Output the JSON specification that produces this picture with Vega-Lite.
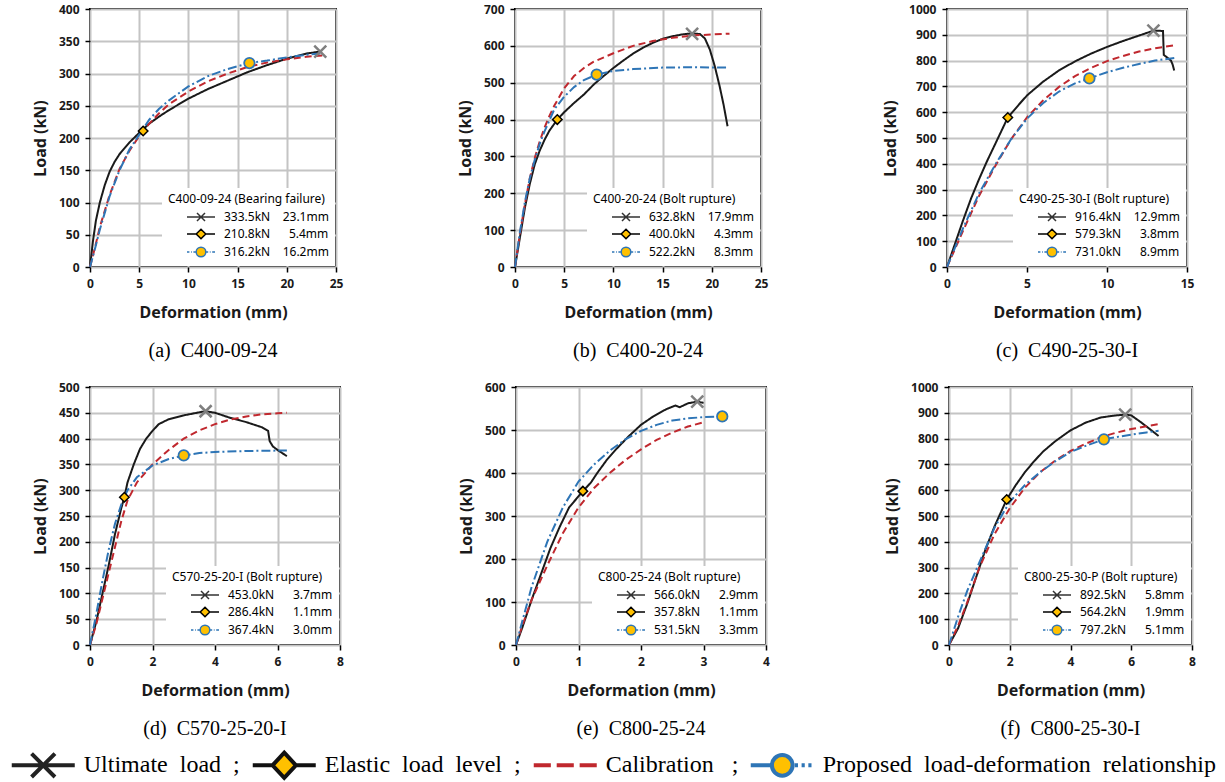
{
"$schema":"https://vega.github.io/schema/vega-lite/v6.json",
"background":"white",
"padding":{"left":10,"top":2,"right":2,"bottom":0},
"datasets":{
"cv":[
{"p":"a","s":"T","x":0,"y":0},{"p":"a","s":"T","x":0.3,"y":40},{"p":"a","s":"T","x":0.6,"y":72},{"p":"a","s":"T","x":1,"y":100},{"p":"a","s":"T","x":1.5,"y":127},{"p":"a","s":"T","x":2,"y":148},{"p":"a","s":"T","x":2.5,"y":163},{"p":"a","s":"T","x":3,"y":175},{"p":"a","s":"T","x":4,"y":193},{"p":"a","s":"T","x":5,"y":208},{"p":"a","s":"T","x":6,"y":222},{"p":"a","s":"T","x":7,"y":233},{"p":"a","s":"T","x":8,"y":243},{"p":"a","s":"T","x":10,"y":261},{"p":"a","s":"T","x":12,"y":276},{"p":"a","s":"T","x":14,"y":289},{"p":"a","s":"T","x":16,"y":302},{"p":"a","s":"T","x":18,"y":313},{"p":"a","s":"T","x":20,"y":323},{"p":"a","s":"T","x":22,"y":331},{"p":"a","s":"T","x":23.4,"y":334},
{"p":"a","s":"C","x":0,"y":0},{"p":"a","s":"C","x":0.5,"y":30},{"p":"a","s":"C","x":1,"y":62},{"p":"a","s":"C","x":2,"y":112},{"p":"a","s":"C","x":3,"y":152},{"p":"a","s":"C","x":4,"y":180},{"p":"a","s":"C","x":5,"y":203},{"p":"a","s":"C","x":6,"y":222},{"p":"a","s":"C","x":7,"y":238},{"p":"a","s":"C","x":8,"y":252},{"p":"a","s":"C","x":10,"y":272},{"p":"a","s":"C","x":12,"y":288},{"p":"a","s":"C","x":14,"y":300},{"p":"a","s":"C","x":16,"y":310},{"p":"a","s":"C","x":18,"y":317},{"p":"a","s":"C","x":20,"y":322},{"p":"a","s":"C","x":22,"y":326},{"p":"a","s":"C","x":23.6,"y":328},
{"p":"a","s":"P","x":0,"y":0},{"p":"a","s":"P","x":0.5,"y":28},{"p":"a","s":"P","x":1,"y":58},{"p":"a","s":"P","x":2,"y":110},{"p":"a","s":"P","x":3,"y":150},{"p":"a","s":"P","x":4,"y":182},{"p":"a","s":"P","x":5,"y":205},{"p":"a","s":"P","x":6,"y":228},{"p":"a","s":"P","x":7,"y":245},{"p":"a","s":"P","x":8,"y":258},{"p":"a","s":"P","x":10,"y":280},{"p":"a","s":"P","x":12,"y":296},{"p":"a","s":"P","x":14,"y":307},{"p":"a","s":"P","x":16.2,"y":316.2},{"p":"a","s":"P","x":18,"y":320},{"p":"a","s":"P","x":20,"y":325},{"p":"a","s":"P","x":22,"y":329},{"p":"a","s":"P","x":23.4,"y":331},
{"p":"b","s":"T","x":0,"y":0},{"p":"b","s":"T","x":0.5,"y":80},{"p":"b","s":"T","x":1,"y":160},{"p":"b","s":"T","x":1.5,"y":225},{"p":"b","s":"T","x":2,"y":278},{"p":"b","s":"T","x":2.5,"y":315},{"p":"b","s":"T","x":3,"y":345},{"p":"b","s":"T","x":3.5,"y":370},{"p":"b","s":"T","x":4.3,"y":400},{"p":"b","s":"T","x":5,"y":420},{"p":"b","s":"T","x":6,"y":445},{"p":"b","s":"T","x":7,"y":468},{"p":"b","s":"T","x":8,"y":495},{"p":"b","s":"T","x":9,"y":518},{"p":"b","s":"T","x":10,"y":540},{"p":"b","s":"T","x":11,"y":560},{"p":"b","s":"T","x":12,"y":579},{"p":"b","s":"T","x":13,"y":595},{"p":"b","s":"T","x":14,"y":608},{"p":"b","s":"T","x":15,"y":619},{"p":"b","s":"T","x":16,"y":626},{"p":"b","s":"T","x":17,"y":631},{"p":"b","s":"T","x":18,"y":634},{"p":"b","s":"T","x":18.8,"y":632},{"p":"b","s":"T","x":19.3,"y":620},{"p":"b","s":"T","x":19.8,"y":590},{"p":"b","s":"T","x":20.3,"y":545},{"p":"b","s":"T","x":20.8,"y":490},{"p":"b","s":"T","x":21.2,"y":440},{"p":"b","s":"T","x":21.6,"y":382},
{"p":"b","s":"C","x":0,"y":0},{"p":"b","s":"C","x":0.5,"y":90},{"p":"b","s":"C","x":1,"y":170},{"p":"b","s":"C","x":1.5,"y":240},{"p":"b","s":"C","x":2,"y":295},{"p":"b","s":"C","x":2.5,"y":340},{"p":"b","s":"C","x":3,"y":378},{"p":"b","s":"C","x":3.5,"y":410},{"p":"b","s":"C","x":4,"y":438},{"p":"b","s":"C","x":5,"y":485},{"p":"b","s":"C","x":6,"y":518},{"p":"b","s":"C","x":7,"y":540},{"p":"b","s":"C","x":8,"y":557},{"p":"b","s":"C","x":10,"y":580},{"p":"b","s":"C","x":12,"y":600},{"p":"b","s":"C","x":14,"y":613},{"p":"b","s":"C","x":16,"y":622},{"p":"b","s":"C","x":18,"y":628},{"p":"b","s":"C","x":20,"y":631},{"p":"b","s":"C","x":21.8,"y":633},
{"p":"b","s":"P","x":0,"y":0},{"p":"b","s":"P","x":0.5,"y":95},{"p":"b","s":"P","x":1,"y":175},{"p":"b","s":"P","x":1.5,"y":240},{"p":"b","s":"P","x":2,"y":290},{"p":"b","s":"P","x":2.5,"y":333},{"p":"b","s":"P","x":3,"y":368},{"p":"b","s":"P","x":4,"y":428},{"p":"b","s":"P","x":5,"y":462},{"p":"b","s":"P","x":6,"y":488},{"p":"b","s":"P","x":7,"y":507},{"p":"b","s":"P","x":8.3,"y":522.2},{"p":"b","s":"P","x":10,"y":532},{"p":"b","s":"P","x":12,"y":537},{"p":"b","s":"P","x":15,"y":541},{"p":"b","s":"P","x":18,"y":542},{"p":"b","s":"P","x":21.7,"y":541},
{"p":"c","s":"T","x":0,"y":0},{"p":"c","s":"T","x":0.5,"y":90},{"p":"c","s":"T","x":1,"y":180},{"p":"c","s":"T","x":1.5,"y":265},{"p":"c","s":"T","x":2,"y":340},{"p":"c","s":"T","x":2.5,"y":410},{"p":"c","s":"T","x":3,"y":475},{"p":"c","s":"T","x":3.8,"y":579.3},{"p":"c","s":"T","x":4.5,"y":630},{"p":"c","s":"T","x":5,"y":665},{"p":"c","s":"T","x":6,"y":718},{"p":"c","s":"T","x":7,"y":762},{"p":"c","s":"T","x":8,"y":797},{"p":"c","s":"T","x":9,"y":827},{"p":"c","s":"T","x":10,"y":853},{"p":"c","s":"T","x":11,"y":876},{"p":"c","s":"T","x":12,"y":897},{"p":"c","s":"T","x":12.9,"y":916},{"p":"c","s":"T","x":13.5,"y":915},{"p":"c","s":"T","x":13.55,"y":822},{"p":"c","s":"T","x":13.8,"y":810},{"p":"c","s":"T","x":14,"y":800},{"p":"c","s":"T","x":14.1,"y":785},{"p":"c","s":"T","x":14.2,"y":762},
{"p":"c","s":"C","x":0,"y":0},{"p":"c","s":"C","x":1,"y":140},{"p":"c","s":"C","x":2,"y":275},{"p":"c","s":"C","x":3,"y":390},{"p":"c","s":"C","x":4,"y":495},{"p":"c","s":"C","x":5,"y":580},{"p":"c","s":"C","x":6,"y":645},{"p":"c","s":"C","x":7,"y":698},{"p":"c","s":"C","x":8,"y":740},{"p":"c","s":"C","x":9,"y":772},{"p":"c","s":"C","x":10,"y":798},{"p":"c","s":"C","x":11,"y":818},{"p":"c","s":"C","x":12,"y":835},{"p":"c","s":"C","x":13,"y":848},{"p":"c","s":"C","x":14.3,"y":860},
{"p":"c","s":"P","x":0,"y":0},{"p":"c","s":"P","x":1,"y":150},{"p":"c","s":"P","x":2,"y":285},{"p":"c","s":"P","x":3,"y":395},{"p":"c","s":"P","x":4,"y":495},{"p":"c","s":"P","x":5,"y":575},{"p":"c","s":"P","x":6,"y":635},{"p":"c","s":"P","x":7,"y":680},{"p":"c","s":"P","x":8,"y":712},{"p":"c","s":"P","x":8.9,"y":731},{"p":"c","s":"P","x":10,"y":755},{"p":"c","s":"P","x":11,"y":772},{"p":"c","s":"P","x":12,"y":787},{"p":"c","s":"P","x":13,"y":800},{"p":"c","s":"P","x":14.3,"y":811},
{"p":"d","s":"T","x":0,"y":0},{"p":"d","s":"T","x":0.2,"y":45},{"p":"d","s":"T","x":0.4,"y":100},{"p":"d","s":"T","x":0.6,"y":155},{"p":"d","s":"T","x":0.8,"y":215},{"p":"d","s":"T","x":1,"y":265},{"p":"d","s":"T","x":1.1,"y":286.4},{"p":"d","s":"T","x":1.2,"y":315},{"p":"d","s":"T","x":1.4,"y":350},{"p":"d","s":"T","x":1.6,"y":380},{"p":"d","s":"T","x":1.8,"y":400},{"p":"d","s":"T","x":2,"y":415},{"p":"d","s":"T","x":2.2,"y":428},{"p":"d","s":"T","x":2.5,"y":437},{"p":"d","s":"T","x":3,"y":445},{"p":"d","s":"T","x":3.5,"y":451},{"p":"d","s":"T","x":3.7,"y":453},{"p":"d","s":"T","x":4,"y":450},{"p":"d","s":"T","x":4.5,"y":440},{"p":"d","s":"T","x":5,"y":432},{"p":"d","s":"T","x":5.5,"y":422},{"p":"d","s":"T","x":5.7,"y":415},{"p":"d","s":"T","x":5.75,"y":395},{"p":"d","s":"T","x":5.85,"y":385},{"p":"d","s":"T","x":6,"y":378},{"p":"d","s":"T","x":6.3,"y":366},
{"p":"d","s":"C","x":0,"y":0},{"p":"d","s":"C","x":0.2,"y":40},{"p":"d","s":"C","x":0.4,"y":90},{"p":"d","s":"C","x":0.6,"y":140},{"p":"d","s":"C","x":0.8,"y":190},{"p":"d","s":"C","x":1,"y":240},{"p":"d","s":"C","x":1.2,"y":280},{"p":"d","s":"C","x":1.5,"y":315},{"p":"d","s":"C","x":2,"y":350},{"p":"d","s":"C","x":2.5,"y":377},{"p":"d","s":"C","x":3,"y":400},{"p":"d","s":"C","x":3.5,"y":416},{"p":"d","s":"C","x":4,"y":428},{"p":"d","s":"C","x":4.5,"y":437},{"p":"d","s":"C","x":5,"y":443},{"p":"d","s":"C","x":5.5,"y":447},{"p":"d","s":"C","x":6,"y":449},{"p":"d","s":"C","x":6.3,"y":450},
{"p":"d","s":"P","x":0,"y":0},{"p":"d","s":"P","x":0.2,"y":60},{"p":"d","s":"P","x":0.4,"y":125},{"p":"d","s":"P","x":0.6,"y":185},{"p":"d","s":"P","x":0.8,"y":235},{"p":"d","s":"P","x":1,"y":272},{"p":"d","s":"P","x":1.2,"y":300},{"p":"d","s":"P","x":1.5,"y":325},{"p":"d","s":"P","x":2,"y":348},{"p":"d","s":"P","x":2.5,"y":360},{"p":"d","s":"P","x":3,"y":367.4},{"p":"d","s":"P","x":3.5,"y":372},{"p":"d","s":"P","x":4,"y":374},{"p":"d","s":"P","x":5,"y":376},{"p":"d","s":"P","x":6.3,"y":377},
{"p":"e","s":"T","x":0,"y":0},{"p":"e","s":"T","x":0.1,"y":40},{"p":"e","s":"T","x":0.25,"y":105},{"p":"e","s":"T","x":0.4,"y":165},{"p":"e","s":"T","x":0.55,"y":225},{"p":"e","s":"T","x":0.7,"y":275},{"p":"e","s":"T","x":0.85,"y":320},{"p":"e","s":"T","x":1.07,"y":357.8},{"p":"e","s":"T","x":1.2,"y":378},{"p":"e","s":"T","x":1.3,"y":400},{"p":"e","s":"T","x":1.45,"y":430},{"p":"e","s":"T","x":1.6,"y":455},{"p":"e","s":"T","x":1.8,"y":485},{"p":"e","s":"T","x":2,"y":512},{"p":"e","s":"T","x":2.2,"y":532},{"p":"e","s":"T","x":2.4,"y":548},{"p":"e","s":"T","x":2.55,"y":557},{"p":"e","s":"T","x":2.62,"y":553},{"p":"e","s":"T","x":2.75,"y":562},{"p":"e","s":"T","x":2.9,"y":566},{"p":"e","s":"T","x":3,"y":563},
{"p":"e","s":"C","x":0,"y":0},{"p":"e","s":"C","x":0.1,"y":45},{"p":"e","s":"C","x":0.25,"y":105},{"p":"e","s":"C","x":0.5,"y":185},{"p":"e","s":"C","x":0.75,"y":260},{"p":"e","s":"C","x":1,"y":320},{"p":"e","s":"C","x":1.25,"y":365},{"p":"e","s":"C","x":1.5,"y":400},{"p":"e","s":"C","x":1.75,"y":430},{"p":"e","s":"C","x":2,"y":455},{"p":"e","s":"C","x":2.25,"y":477},{"p":"e","s":"C","x":2.5,"y":494},{"p":"e","s":"C","x":2.75,"y":508},{"p":"e","s":"C","x":3,"y":518},
{"p":"e","s":"P","x":0,"y":0},{"p":"e","s":"P","x":0.1,"y":55},{"p":"e","s":"P","x":0.25,"y":135},{"p":"e","s":"P","x":0.5,"y":240},{"p":"e","s":"P","x":0.75,"y":320},{"p":"e","s":"P","x":1,"y":380},{"p":"e","s":"P","x":1.25,"y":420},{"p":"e","s":"P","x":1.5,"y":452},{"p":"e","s":"P","x":1.75,"y":478},{"p":"e","s":"P","x":2,"y":498},{"p":"e","s":"P","x":2.25,"y":512},{"p":"e","s":"P","x":2.5,"y":522},{"p":"e","s":"P","x":2.75,"y":527},{"p":"e","s":"P","x":3,"y":530},{"p":"e","s":"P","x":3.3,"y":531.5},
{"p":"f","s":"T","x":0,"y":0},{"p":"f","s":"T","x":0.3,"y":65},{"p":"f","s":"T","x":0.6,"y":160},{"p":"f","s":"T","x":0.9,"y":265},{"p":"f","s":"T","x":1.2,"y":370},{"p":"f","s":"T","x":1.5,"y":460},{"p":"f","s":"T","x":1.9,"y":564.2},{"p":"f","s":"T","x":2.2,"y":620},{"p":"f","s":"T","x":2.5,"y":670},{"p":"f","s":"T","x":2.8,"y":712},{"p":"f","s":"T","x":3.1,"y":750},{"p":"f","s":"T","x":3.5,"y":790},{"p":"f","s":"T","x":4,"y":832},{"p":"f","s":"T","x":4.5,"y":862},{"p":"f","s":"T","x":5,"y":882},{"p":"f","s":"T","x":5.5,"y":890},{"p":"f","s":"T","x":5.8,"y":892.5},{"p":"f","s":"T","x":6,"y":890},{"p":"f","s":"T","x":6.3,"y":865},{"p":"f","s":"T","x":6.6,"y":838},{"p":"f","s":"T","x":6.9,"y":810},
{"p":"f","s":"C","x":0,"y":0},{"p":"f","s":"C","x":0.3,"y":75},{"p":"f","s":"C","x":0.6,"y":165},{"p":"f","s":"C","x":1,"y":300},{"p":"f","s":"C","x":1.5,"y":430},{"p":"f","s":"C","x":2,"y":530},{"p":"f","s":"C","x":2.5,"y":610},{"p":"f","s":"C","x":3,"y":670},{"p":"f","s":"C","x":3.5,"y":715},{"p":"f","s":"C","x":4,"y":752},{"p":"f","s":"C","x":4.5,"y":780},{"p":"f","s":"C","x":5,"y":805},{"p":"f","s":"C","x":5.5,"y":823},{"p":"f","s":"C","x":6,"y":837},{"p":"f","s":"C","x":6.5,"y":848},{"p":"f","s":"C","x":6.9,"y":856},
{"p":"f","s":"P","x":0,"y":0},{"p":"f","s":"P","x":0.3,"y":110},{"p":"f","s":"P","x":0.6,"y":210},{"p":"f","s":"P","x":1,"y":320},{"p":"f","s":"P","x":1.5,"y":455},{"p":"f","s":"P","x":2,"y":555},{"p":"f","s":"P","x":2.5,"y":620},{"p":"f","s":"P","x":3,"y":670},{"p":"f","s":"P","x":3.5,"y":712},{"p":"f","s":"P","x":4,"y":748},{"p":"f","s":"P","x":4.5,"y":772},{"p":"f","s":"P","x":5.1,"y":797.2},{"p":"f","s":"P","x":5.5,"y":806},{"p":"f","s":"P","x":6,"y":815},{"p":"f","s":"P","x":6.5,"y":824},{"p":"f","s":"P","x":6.9,"y":830}
],
"mk":[
{"p":"a","k":"U","o":1,"x":23.4,"y":334,"lab":"333.5kN\u00a0\u00a0\u00a0\u00a023.1mm"},
{"p":"a","k":"E","o":2,"x":5.4,"y":210.8,"lab":"210.8kN\u00a0\u00a0\u00a0\u00a0\u00a0\u00a05.4mm"},
{"p":"a","k":"P","o":3,"x":16.2,"y":316.2,"lab":"316.2kN\u00a0\u00a0\u00a0\u00a016.2mm"},
{"p":"b","k":"U","o":1,"x":18.0,"y":632.8,"lab":"632.8kN\u00a0\u00a0\u00a0\u00a017.9mm"},
{"p":"b","k":"E","o":2,"x":4.3,"y":400,"lab":"400.0kN\u00a0\u00a0\u00a0\u00a0\u00a0\u00a04.3mm"},
{"p":"b","k":"P","o":3,"x":8.3,"y":522.2,"lab":"522.2kN\u00a0\u00a0\u00a0\u00a0\u00a0\u00a08.3mm"},
{"p":"c","k":"U","o":1,"x":12.9,"y":916.4,"lab":"916.4kN\u00a0\u00a0\u00a0\u00a012.9mm"},
{"p":"c","k":"E","o":2,"x":3.8,"y":579.3,"lab":"579.3kN\u00a0\u00a0\u00a0\u00a0\u00a0\u00a03.8mm"},
{"p":"c","k":"P","o":3,"x":8.9,"y":731,"lab":"731.0kN\u00a0\u00a0\u00a0\u00a0\u00a0\u00a08.9mm"},
{"p":"d","k":"U","o":1,"x":3.7,"y":453,"lab":"453.0kN\u00a0\u00a0\u00a0\u00a0\u00a0\u00a03.7mm"},
{"p":"d","k":"E","o":2,"x":1.1,"y":286.4,"lab":"286.4kN\u00a0\u00a0\u00a0\u00a0\u00a0\u00a01.1mm"},
{"p":"d","k":"P","o":3,"x":3.0,"y":367.4,"lab":"367.4kN\u00a0\u00a0\u00a0\u00a0\u00a0\u00a03.0mm"},
{"p":"e","k":"U","o":1,"x":2.9,"y":566,"lab":"566.0kN\u00a0\u00a0\u00a0\u00a0\u00a0\u00a02.9mm"},
{"p":"e","k":"E","o":2,"x":1.07,"y":357.8,"lab":"357.8kN\u00a0\u00a0\u00a0\u00a0\u00a0\u00a01.1mm"},
{"p":"e","k":"P","o":3,"x":3.3,"y":531.5,"lab":"531.5kN\u00a0\u00a0\u00a0\u00a0\u00a0\u00a03.3mm"},
{"p":"f","k":"U","o":1,"x":5.8,"y":892.5,"lab":"892.5kN\u00a0\u00a0\u00a0\u00a0\u00a0\u00a05.8mm"},
{"p":"f","k":"E","o":2,"x":1.9,"y":564.2,"lab":"564.2kN\u00a0\u00a0\u00a0\u00a0\u00a0\u00a01.9mm"},
{"p":"f","k":"P","o":3,"x":5.1,"y":797.2,"lab":"797.2kN\u00a0\u00a0\u00a0\u00a0\u00a0\u00a05.1mm"}
]
},
"vconcat":[
{"vconcat":[
{"hconcat":[
{"width":246,"height":258,"title":{"text":"(a)\u00a0\u00a0C400-09-24"},
 "encoding":{"x":{"field":"x","type":"quantitative","scale":{"domain":[0,25],"nice":false},"axis":{"values":[0,5,10,15,20,25]},"title":"Deformation (mm)"},"y":{"field":"y","type":"quantitative","scale":{"domain":[0,400],"nice":false},"axis":{"values":[0,50,100,150,200,250,300,350,400]},"title":"Load (kN)"}},
 "layer":[
  {"data":{"name":"cv"},"transform":[{"filter":"datum.p=='a'"}],"mark":{"type":"line","strokeWidth":2},"encoding":{"color":{"field":"s","type":"nominal","scale":{"domain":["T","C","P"],"range":["#1a1a1a","#c0282e","#2e75b6"]},"legend":null},"strokeDash":{"field":"s","type":"nominal","scale":{"domain":["T","C","P"],"range":[[1,0],[7,4],[9,3,2,3]]},"legend":null}}},
  {"data":{"name":"mk"},"transform":[{"filter":"datum.p=='a'&&datum.k=='U'"}],"mark":{"type":"point","shape":"M-1,-1L1,1M-1,1L1,-1","size":144,"stroke":"#7f7f7f","strokeWidth":2.5,"filled":false,"opacity":1}},
  {"data":{"name":"mk"},"transform":[{"filter":"datum.p=='a'&&datum.k=='E'"}],"mark":{"type":"point","shape":"diamond","size":90,"fill":"#FFC000","stroke":"#000","strokeWidth":1.5,"filled":true,"opacity":1}},
  {"data":{"name":"mk"},"transform":[{"filter":"datum.p=='a'&&datum.k=='P'"}],"mark":{"type":"point","shape":"circle","size":110,"fill":"#FFC000","stroke":"#2e75b6","strokeWidth":1.8,"filled":true,"opacity":1}},
  {"data":{"name":"mk"},"transform":[{"filter":"datum.p=='a'"}],"mark":{"type":"point","opacity":0},"encoding":{
   "shape":{"field":"lab","type":"nominal","sort":{"field":"o","op":"min"},"title":"C400-09-24 (Bearing failure)","scale":{"range":["M-3.5,0H3.5M-1,-1L1,1M-1,1L1,-1","M-3.5,0H-1.2M1.2,0H3.5M0,-1.2L1.2,0L0,1.2L-1.2,0Z","M-3.5,0H-2.9M-2.5,0H-2.3M-1.9,0H-1.2M1.2,0H1.8M2.2,0H2.4M2.8,0H3.5M1.2,0A1.2,1.2,0,1,1,-1.2,0A1.2,1.2,0,1,1,1.2,0Z"]}},
   "stroke":{"field":"lab","type":"nominal","sort":{"field":"o","op":"min"},"title":"C400-09-24 (Bearing failure)","scale":{"range":["#333333","#000000","#2e75b6"]}},
   "fill":{"field":"lab","type":"nominal","sort":{"field":"o","op":"min"},"title":"C400-09-24 (Bearing failure)","scale":{"range":["transparent","#FFC000","#FFC000"]}}}}
 ]},
{"width":246,"height":258,"title":{"text":"(b)\u00a0\u00a0C400-20-24"},
 "encoding":{"x":{"field":"x","type":"quantitative","scale":{"domain":[0,25],"nice":false},"axis":{"values":[0,5,10,15,20,25]},"title":"Deformation (mm)"},"y":{"field":"y","type":"quantitative","scale":{"domain":[0,700],"nice":false},"axis":{"values":[0,100,200,300,400,500,600,700]},"title":"Load (kN)"}},
 "layer":[
  {"data":{"name":"cv"},"transform":[{"filter":"datum.p=='b'"}],"mark":{"type":"line","strokeWidth":2},"encoding":{"color":{"field":"s","type":"nominal","scale":{"domain":["T","C","P"],"range":["#1a1a1a","#c0282e","#2e75b6"]},"legend":null},"strokeDash":{"field":"s","type":"nominal","scale":{"domain":["T","C","P"],"range":[[1,0],[7,4],[9,3,2,3]]},"legend":null}}},
  {"data":{"name":"mk"},"transform":[{"filter":"datum.p=='b'&&datum.k=='U'"}],"mark":{"type":"point","shape":"M-1,-1L1,1M-1,1L1,-1","size":144,"stroke":"#7f7f7f","strokeWidth":2.5,"filled":false,"opacity":1}},
  {"data":{"name":"mk"},"transform":[{"filter":"datum.p=='b'&&datum.k=='E'"}],"mark":{"type":"point","shape":"diamond","size":90,"fill":"#FFC000","stroke":"#000","strokeWidth":1.5,"filled":true,"opacity":1}},
  {"data":{"name":"mk"},"transform":[{"filter":"datum.p=='b'&&datum.k=='P'"}],"mark":{"type":"point","shape":"circle","size":110,"fill":"#FFC000","stroke":"#2e75b6","strokeWidth":1.8,"filled":true,"opacity":1}},
  {"data":{"name":"mk"},"transform":[{"filter":"datum.p=='b'"}],"mark":{"type":"point","opacity":0},"encoding":{
   "shape":{"field":"lab","type":"nominal","sort":{"field":"o","op":"min"},"title":"C400-20-24 (Bolt rupture)","scale":{"range":["M-3.5,0H3.5M-1,-1L1,1M-1,1L1,-1","M-3.5,0H-1.2M1.2,0H3.5M0,-1.2L1.2,0L0,1.2L-1.2,0Z","M-3.5,0H-2.9M-2.5,0H-2.3M-1.9,0H-1.2M1.2,0H1.8M2.2,0H2.4M2.8,0H3.5M1.2,0A1.2,1.2,0,1,1,-1.2,0A1.2,1.2,0,1,1,1.2,0Z"]}},
   "stroke":{"field":"lab","type":"nominal","sort":{"field":"o","op":"min"},"title":"C400-20-24 (Bolt rupture)","scale":{"range":["#333333","#000000","#2e75b6"]}},
   "fill":{"field":"lab","type":"nominal","sort":{"field":"o","op":"min"},"title":"C400-20-24 (Bolt rupture)","scale":{"range":["transparent","#FFC000","#FFC000"]}}}}
 ]},
{"width":240,"height":258,"title":{"text":"(c)\u00a0\u00a0C490-25-30-I"},
 "encoding":{"x":{"field":"x","type":"quantitative","scale":{"domain":[0,15],"nice":false},"axis":{"values":[0,5,10,15]},"title":"Deformation (mm)"},"y":{"field":"y","type":"quantitative","scale":{"domain":[0,1000],"nice":false},"axis":{"values":[0,100,200,300,400,500,600,700,800,900,1000]},"title":"Load (kN)"}},
 "layer":[
  {"data":{"name":"cv"},"transform":[{"filter":"datum.p=='c'"}],"mark":{"type":"line","strokeWidth":2},"encoding":{"color":{"field":"s","type":"nominal","scale":{"domain":["T","C","P"],"range":["#1a1a1a","#c0282e","#2e75b6"]},"legend":null},"strokeDash":{"field":"s","type":"nominal","scale":{"domain":["T","C","P"],"range":[[1,0],[7,4],[9,3,2,3]]},"legend":null}}},
  {"data":{"name":"mk"},"transform":[{"filter":"datum.p=='c'&&datum.k=='U'"}],"mark":{"type":"point","shape":"M-1,-1L1,1M-1,1L1,-1","size":144,"stroke":"#7f7f7f","strokeWidth":2.5,"filled":false,"opacity":1}},
  {"data":{"name":"mk"},"transform":[{"filter":"datum.p=='c'&&datum.k=='E'"}],"mark":{"type":"point","shape":"diamond","size":90,"fill":"#FFC000","stroke":"#000","strokeWidth":1.5,"filled":true,"opacity":1}},
  {"data":{"name":"mk"},"transform":[{"filter":"datum.p=='c'&&datum.k=='P'"}],"mark":{"type":"point","shape":"circle","size":110,"fill":"#FFC000","stroke":"#2e75b6","strokeWidth":1.8,"filled":true,"opacity":1}},
  {"data":{"name":"mk"},"transform":[{"filter":"datum.p=='c'"}],"mark":{"type":"point","opacity":0},"encoding":{
   "shape":{"field":"lab","type":"nominal","sort":{"field":"o","op":"min"},"title":"C490-25-30-I (Bolt rupture)","scale":{"range":["M-3.5,0H3.5M-1,-1L1,1M-1,1L1,-1","M-3.5,0H-1.2M1.2,0H3.5M0,-1.2L1.2,0L0,1.2L-1.2,0Z","M-3.5,0H-2.9M-2.5,0H-2.3M-1.9,0H-1.2M1.2,0H1.8M2.2,0H2.4M2.8,0H3.5M1.2,0A1.2,1.2,0,1,1,-1.2,0A1.2,1.2,0,1,1,1.2,0Z"]}},
   "stroke":{"field":"lab","type":"nominal","sort":{"field":"o","op":"min"},"title":"C490-25-30-I (Bolt rupture)","scale":{"range":["#333333","#000000","#2e75b6"]}},
   "fill":{"field":"lab","type":"nominal","sort":{"field":"o","op":"min"},"title":"C490-25-30-I (Bolt rupture)","scale":{"range":["transparent","#FFC000","#FFC000"]}}}}
 ]}
],"spacing":112,"resolve":{"scale":{"shape":"independent","stroke":"independent","fill":"independent"}}},
{"hconcat":[
{"width":250,"height":258,"title":{"text":"(d)\u00a0\u00a0C570-25-20-I"},
 "encoding":{"x":{"field":"x","type":"quantitative","scale":{"domain":[0,8],"nice":false},"axis":{"values":[0,2,4,6,8]},"title":"Deformation (mm)"},"y":{"field":"y","type":"quantitative","scale":{"domain":[0,500],"nice":false},"axis":{"values":[0,50,100,150,200,250,300,350,400,450,500]},"title":"Load (kN)"}},
 "layer":[
  {"data":{"name":"cv"},"transform":[{"filter":"datum.p=='d'"}],"mark":{"type":"line","strokeWidth":2},"encoding":{"color":{"field":"s","type":"nominal","scale":{"domain":["T","C","P"],"range":["#1a1a1a","#c0282e","#2e75b6"]},"legend":null},"strokeDash":{"field":"s","type":"nominal","scale":{"domain":["T","C","P"],"range":[[1,0],[7,4],[9,3,2,3]]},"legend":null}}},
  {"data":{"name":"mk"},"transform":[{"filter":"datum.p=='d'&&datum.k=='U'"}],"mark":{"type":"point","shape":"M-1,-1L1,1M-1,1L1,-1","size":144,"stroke":"#7f7f7f","strokeWidth":2.5,"filled":false,"opacity":1}},
  {"data":{"name":"mk"},"transform":[{"filter":"datum.p=='d'&&datum.k=='E'"}],"mark":{"type":"point","shape":"diamond","size":90,"fill":"#FFC000","stroke":"#000","strokeWidth":1.5,"filled":true,"opacity":1}},
  {"data":{"name":"mk"},"transform":[{"filter":"datum.p=='d'&&datum.k=='P'"}],"mark":{"type":"point","shape":"circle","size":110,"fill":"#FFC000","stroke":"#2e75b6","strokeWidth":1.8,"filled":true,"opacity":1}},
  {"data":{"name":"mk"},"transform":[{"filter":"datum.p=='d'"}],"mark":{"type":"point","opacity":0},"encoding":{
   "shape":{"field":"lab","type":"nominal","sort":{"field":"o","op":"min"},"title":"C570-25-20-I (Bolt rupture)","scale":{"range":["M-3.5,0H3.5M-1,-1L1,1M-1,1L1,-1","M-3.5,0H-1.2M1.2,0H3.5M0,-1.2L1.2,0L0,1.2L-1.2,0Z","M-3.5,0H-2.9M-2.5,0H-2.3M-1.9,0H-1.2M1.2,0H1.8M2.2,0H2.4M2.8,0H3.5M1.2,0A1.2,1.2,0,1,1,-1.2,0A1.2,1.2,0,1,1,1.2,0Z"]}},
   "stroke":{"field":"lab","type":"nominal","sort":{"field":"o","op":"min"},"title":"C570-25-20-I (Bolt rupture)","scale":{"range":["#333333","#000000","#2e75b6"]}},
   "fill":{"field":"lab","type":"nominal","sort":{"field":"o","op":"min"},"title":"C570-25-20-I (Bolt rupture)","scale":{"range":["transparent","#FFC000","#FFC000"]}}}}
 ]},
{"width":250,"height":258,"title":{"text":"(e)\u00a0\u00a0C800-25-24"},
 "encoding":{"x":{"field":"x","type":"quantitative","scale":{"domain":[0,4],"nice":false},"axis":{"values":[0,1,2,3,4]},"title":"Deformation (mm)"},"y":{"field":"y","type":"quantitative","scale":{"domain":[0,600],"nice":false},"axis":{"values":[0,100,200,300,400,500,600]},"title":"Load (kN)"}},
 "layer":[
  {"data":{"name":"cv"},"transform":[{"filter":"datum.p=='e'"}],"mark":{"type":"line","strokeWidth":2},"encoding":{"color":{"field":"s","type":"nominal","scale":{"domain":["T","C","P"],"range":["#1a1a1a","#c0282e","#2e75b6"]},"legend":null},"strokeDash":{"field":"s","type":"nominal","scale":{"domain":["T","C","P"],"range":[[1,0],[7,4],[9,3,2,3]]},"legend":null}}},
  {"data":{"name":"mk"},"transform":[{"filter":"datum.p=='e'&&datum.k=='U'"}],"mark":{"type":"point","shape":"M-1,-1L1,1M-1,1L1,-1","size":144,"stroke":"#7f7f7f","strokeWidth":2.5,"filled":false,"opacity":1}},
  {"data":{"name":"mk"},"transform":[{"filter":"datum.p=='e'&&datum.k=='E'"}],"mark":{"type":"point","shape":"diamond","size":90,"fill":"#FFC000","stroke":"#000","strokeWidth":1.5,"filled":true,"opacity":1}},
  {"data":{"name":"mk"},"transform":[{"filter":"datum.p=='e'&&datum.k=='P'"}],"mark":{"type":"point","shape":"circle","size":110,"fill":"#FFC000","stroke":"#2e75b6","strokeWidth":1.8,"filled":true,"opacity":1}},
  {"data":{"name":"mk"},"transform":[{"filter":"datum.p=='e'"}],"mark":{"type":"point","opacity":0},"encoding":{
   "shape":{"field":"lab","type":"nominal","sort":{"field":"o","op":"min"},"title":"C800-25-24 (Bolt rupture)","scale":{"range":["M-3.5,0H3.5M-1,-1L1,1M-1,1L1,-1","M-3.5,0H-1.2M1.2,0H3.5M0,-1.2L1.2,0L0,1.2L-1.2,0Z","M-3.5,0H-2.9M-2.5,0H-2.3M-1.9,0H-1.2M1.2,0H1.8M2.2,0H2.4M2.8,0H3.5M1.2,0A1.2,1.2,0,1,1,-1.2,0A1.2,1.2,0,1,1,1.2,0Z"]}},
   "stroke":{"field":"lab","type":"nominal","sort":{"field":"o","op":"min"},"title":"C800-25-24 (Bolt rupture)","scale":{"range":["#333333","#000000","#2e75b6"]}},
   "fill":{"field":"lab","type":"nominal","sort":{"field":"o","op":"min"},"title":"C800-25-24 (Bolt rupture)","scale":{"range":["transparent","#FFC000","#FFC000"]}}}}
 ]},
{"width":243,"height":258,"title":{"text":"(f)\u00a0\u00a0C800-25-30-I"},
 "encoding":{"x":{"field":"x","type":"quantitative","scale":{"domain":[0,8],"nice":false},"axis":{"values":[0,2,4,6,8]},"title":"Deformation (mm)"},"y":{"field":"y","type":"quantitative","scale":{"domain":[0,1000],"nice":false},"axis":{"values":[0,100,200,300,400,500,600,700,800,900,1000]},"title":"Load (kN)"}},
 "layer":[
  {"data":{"name":"cv"},"transform":[{"filter":"datum.p=='f'"}],"mark":{"type":"line","strokeWidth":2},"encoding":{"color":{"field":"s","type":"nominal","scale":{"domain":["T","C","P"],"range":["#1a1a1a","#c0282e","#2e75b6"]},"legend":null},"strokeDash":{"field":"s","type":"nominal","scale":{"domain":["T","C","P"],"range":[[1,0],[7,4],[9,3,2,3]]},"legend":null}}},
  {"data":{"name":"mk"},"transform":[{"filter":"datum.p=='f'&&datum.k=='U'"}],"mark":{"type":"point","shape":"M-1,-1L1,1M-1,1L1,-1","size":144,"stroke":"#7f7f7f","strokeWidth":2.5,"filled":false,"opacity":1}},
  {"data":{"name":"mk"},"transform":[{"filter":"datum.p=='f'&&datum.k=='E'"}],"mark":{"type":"point","shape":"diamond","size":90,"fill":"#FFC000","stroke":"#000","strokeWidth":1.5,"filled":true,"opacity":1}},
  {"data":{"name":"mk"},"transform":[{"filter":"datum.p=='f'&&datum.k=='P'"}],"mark":{"type":"point","shape":"circle","size":110,"fill":"#FFC000","stroke":"#2e75b6","strokeWidth":1.8,"filled":true,"opacity":1}},
  {"data":{"name":"mk"},"transform":[{"filter":"datum.p=='f'"}],"mark":{"type":"point","opacity":0},"encoding":{
   "shape":{"field":"lab","type":"nominal","sort":{"field":"o","op":"min"},"title":"C800-25-30-P (Bolt rupture)","scale":{"range":["M-3.5,0H3.5M-1,-1L1,1M-1,1L1,-1","M-3.5,0H-1.2M1.2,0H3.5M0,-1.2L1.2,0L0,1.2L-1.2,0Z","M-3.5,0H-2.9M-2.5,0H-2.3M-1.9,0H-1.2M1.2,0H1.8M2.2,0H2.4M2.8,0H3.5M1.2,0A1.2,1.2,0,1,1,-1.2,0A1.2,1.2,0,1,1,1.2,0Z"]}},
   "stroke":{"field":"lab","type":"nominal","sort":{"field":"o","op":"min"},"title":"C800-25-30-P (Bolt rupture)","scale":{"range":["#333333","#000000","#2e75b6"]}},
   "fill":{"field":"lab","type":"nominal","sort":{"field":"o","op":"min"},"title":"C800-25-30-P (Bolt rupture)","scale":{"range":["transparent","#FFC000","#FFC000"]}}}}
 ]}
],"spacing":112,"resolve":{"scale":{"shape":"independent","stroke":"independent","fill":"independent"}}}
],"spacing":18,"resolve":{"scale":{"shape":"independent","stroke":"independent","fill":"independent"}}},
{"width":1,"height":1,"view":{"stroke":null},
 "data":{"values":[{"t":"Ultimate\u00a0\u00a0load\u00a0\u00a0;","o":1},{"t":"Elastic\u00a0\u00a0load\u00a0\u00a0level\u00a0\u00a0;","o":2},{"t":"Calibration\u00a0\u00a0\u00a0;","o":3},{"t":"Proposed\u00a0\u00a0load-deformation\u00a0\u00a0relationship","o":4}]},
 "mark":{"type":"point","opacity":0},
 "encoding":{
  "shape":{"field":"t","type":"nominal","sort":{"field":"o","op":"min"},"title":null,"scale":{"range":["M0,-1.6M0,1.6M-3.5,0H3.5M-1.3,-1.3L1.3,1.3M-1.3,1.3L1.3,-1.3","M0,-1.6M0,1.6M-3.5,0H-1.3M1.3,0H3.5M0,-1.4L1.3,0L0,1.4L-1.3,0Z","M0,-1.6M0,1.6M-3.5,0H-1.6M-0.95,0H0.95M1.6,0H3.5","M0,-1.6M0,1.6M-3.5,0H-1.15M1.4,0H1.75M2.15,0H2.5M2.9,0H3.25M1.15,0A1.15,1.15,0,1,1,-1.15,0A1.15,1.15,0,1,1,1.15,0Z"]},
   "legend":{"orient":"none","legendX":-79.5,"legendY":-29,"direction":"horizontal","columns":4,"symbolSize":324,"symbolStrokeWidth":4,"symbolOffset":20.75,"labelOffset":28.5,"columnPadding":4,"labelFont":"Liberation Serif","labelFontSize":24,"padding":0,"offset":0}},
  "stroke":{"field":"t","type":"nominal","sort":{"field":"o","op":"min"},"title":null,"scale":{"range":["#222222","#111111","#c0282e","#2e75b6"]}},
  "fill":{"field":"t","type":"nominal","sort":{"field":"o","op":"min"},"title":null,"scale":{"range":["transparent","#FFC000","transparent","#FFC000"]}}
 }}
],
"spacing":13,
"resolve":{"scale":{"shape":"independent","stroke":"independent","fill":"independent"}},
"config":{
 "font":"Noto Sans",
 "view":{"stroke":"#000000","strokeWidth":2},
 "axis":{"format":"d","labelFont":"Noto Sans","labelFontWeight":"bold","labelFontSize":12,"labelColor":"#1a1a1a","labelFlush":false,"labelOverlap":false,"labelPadding":6,"titleFont":"Noto Sans","titleFontWeight":"bold","titleFontSize":16,"titleColor":"#1a1a1a","gridColor":"#c4c4c4","gridWidth":2,"domain":false,"tickColor":"#000000","tickSize":5,"tickWidth":1.5},
 "axisY":{"titlePadding":10},
 "axisX":{"titlePadding":15},
 "title":{"orient":"bottom","font":"Liberation Serif","fontSize":20,"fontWeight":"normal","color":"#000000","offset":21,"anchor":"middle"},
 "legend":{"orient":"bottom-right","offset":1,"fillColor":"white","padding":6,"titleFont":"Noto Sans","titleFontSize":12,"titleFontWeight":"normal","titleColor":"#000000","titlePadding":5,"titleLimit":400,"labelFont":"Noto Sans","labelFontSize":12,"labelColor":"#000000","labelLimit":400,"symbolSize":64,"symbolStrokeWidth":1.5,"symbolOffset":27,"labelOffset":17,"rowPadding":2,"symbolOpacity":1}
}
}
